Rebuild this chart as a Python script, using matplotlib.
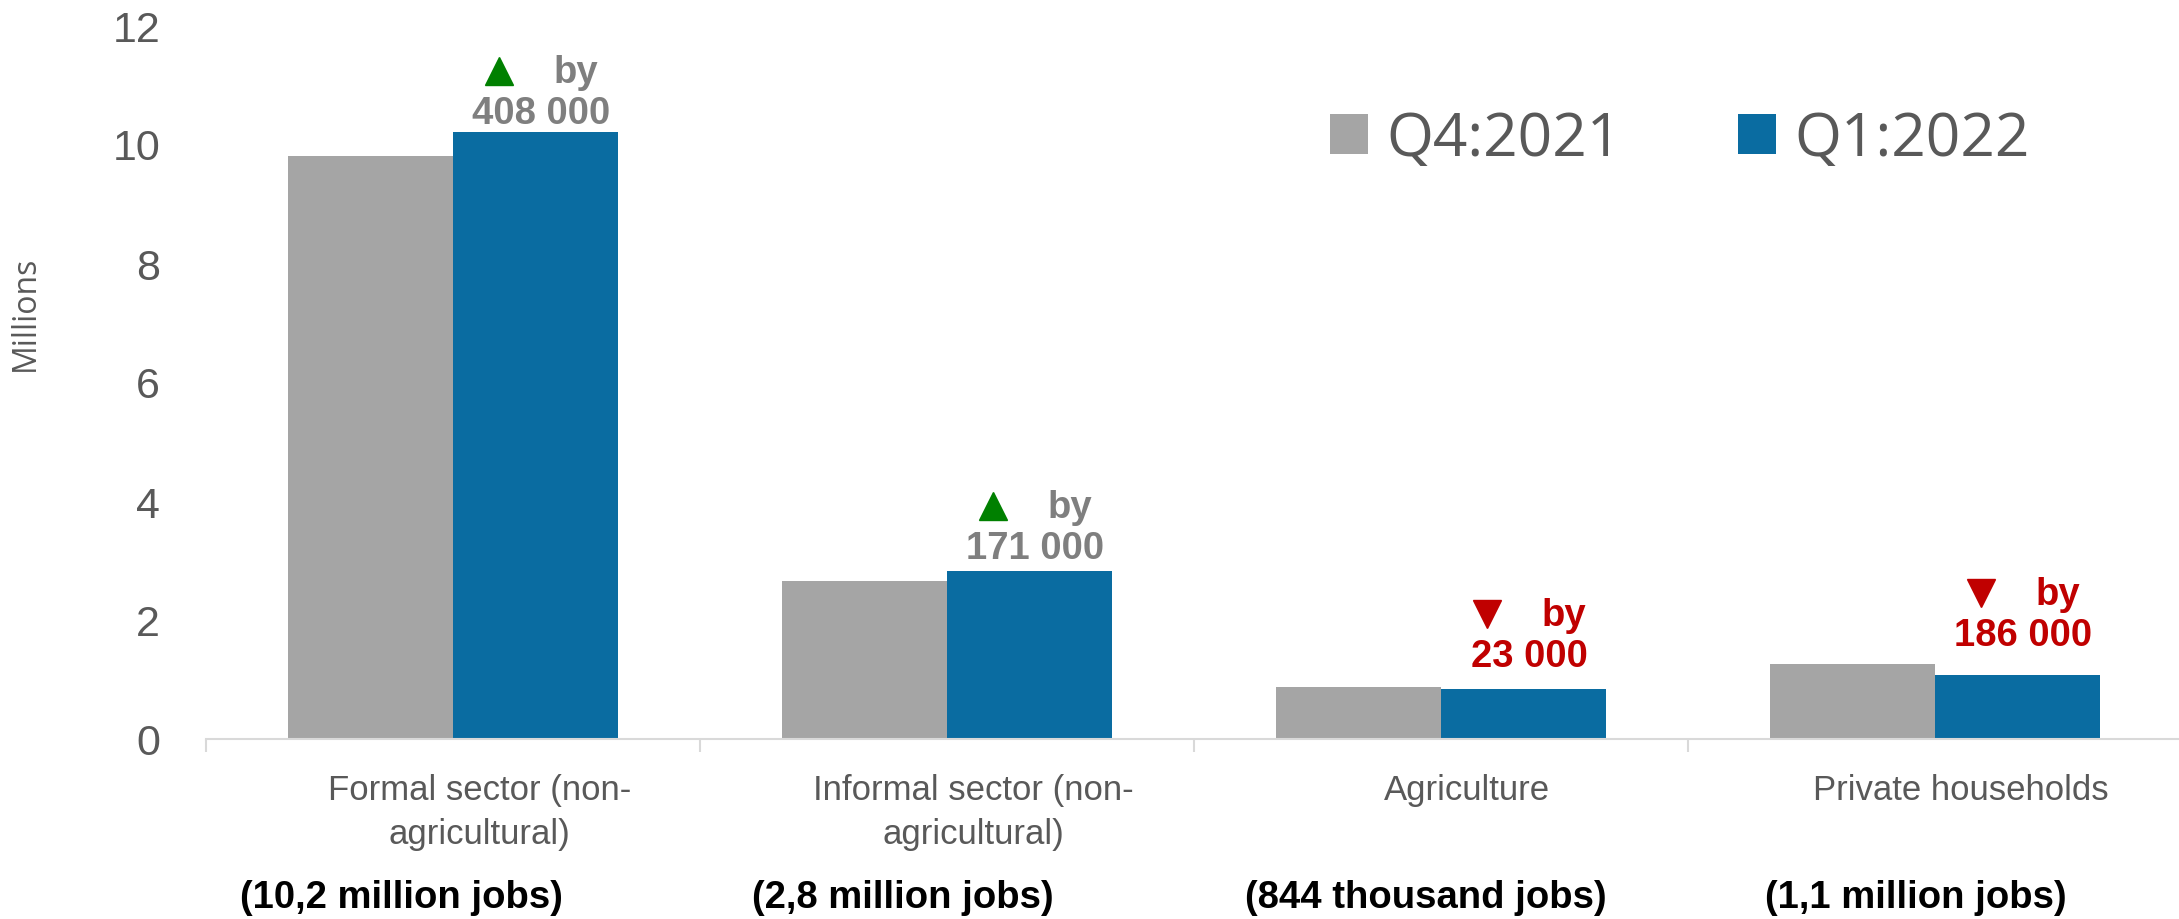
import numpy as np
import matplotlib.pyplot as plt
from matplotlib import transforms

# employment by sector, millions
categories = ["Formal sector (non-\nagricultural)", "Informal sector (non-\nagricultural)",
              "Agriculture", "Private households"]
jobs_notes = ["(10,2 million jobs)", "(2,8 million jobs)", "(844 thousand jobs)", "(1,1 million jobs)"]
q4_2021 = [9.79, 2.65, 0.867, 1.266]
q1_2022 = [10.20, 2.82, 0.844, 1.080]
change = [408000, 171000, -23000, -186000]

# hand placement of the free text boxes
note_shift = [-0.105, -0.089, -0.030, -0.038]   # category units
label_lift = [19, 23, 33, 40]                   # pixels above the Q1 bar

GREY = '#A5A5A5'
BLUE = '#0A6CA1'
TXT = '#595959'
SANS = ['Liberation Sans', 'DejaVu Sans']

W, H = 2179, 920
fig = plt.figure(figsize=(W / 100, H / 100), dpi=100)
ax = fig.add_axes([206 / W, 180 / H, 1976 / W, 714 / H])

x = np.arange(len(categories))
w = 0.333
ax.bar(x - w / 2, q4_2021, w, color=GREY, label='Q4:2021')
ax.bar(x + w / 2, q1_2022, w, color=BLUE, label='Q1:2022')

ax.set_xlim(-0.5, len(categories) - 0.5)
ax.set_ylim(0, 12)
ax.set_yticks(range(0, 13, 2))
ax.tick_params(axis='y', length=0, pad=33, labelsize=31, labelcolor=TXT)
for lab in ax.get_yticklabels():
    lab.set_family(SANS)

# category separators below the baseline
ax.set_xticks([])
ax.set_xticks(np.arange(-0.5, len(categories)), minor=True)
ax.tick_params(axis='x', which='minor', length=9, width=1.5, color='#D9D9D9', direction='out')
for s in ['top', 'right', 'left']:
    ax.spines[s].set_visible(False)
ax.spines['bottom'].set_color('#D9D9D9')
ax.spines['bottom'].set_linewidth(1.5)

fig.text(25 / W, 1 - 313 / H, 'Millions', rotation=90, ha='center', va='center',
         fontsize=23, color=TXT, family='Open Sans')

# category names and job totals
xfig = transforms.blended_transform_factory(ax.transData, fig.transFigure)
for i, name in enumerate(categories):
    ax.text(i + 0.053, 1 - 774 / H, name, transform=xfig, ha='center', va='top',
            fontsize=25, color=TXT, family=SANS, linespacing=1.43)
    ax.text(i + note_shift[i], 1 - 898 / H, jobs_notes[i], transform=xfig, ha='center', va='center',
            fontsize=27.5, fontweight='bold', color='black', family=SANS)

# change labels over the Q1 bars
for i, d in enumerate(change):
    up = d > 0
    col = '#7F7F7F' if up else '#C00000'
    xb = i + w / 2
    yb = q1_2022[i]
    lift = label_lift[i]
    num = f"{abs(d):,}".replace(',', ' ')
    ax.annotate(num, xy=(xb, yb), xytext=(6, lift), textcoords='offset pixels',
                ha='center', va='center', fontsize=27.5, fontweight='bold', color=col, family=SANS)
    ax.annotate('by', xy=(xb, yb), xytext=(41, lift + 41), textcoords='offset pixels',
                ha='center', va='center', fontsize=27.5, fontweight='bold', color=col, family=SANS)
    tr = transforms.offset_copy(ax.transData, fig=fig, x=(6 - 42) * 0.72, y=(lift + 42) * 0.72,
                                units='points')
    ax.plot([xb], [yb], marker='^' if up else 'v', ms=20, color='#008000' if up else '#C00000',
            transform=tr, clip_on=False, linestyle='none')

ax.legend(loc='center left', bbox_to_anchor=(1330 / W, 1 - 140 / H), bbox_transform=fig.transFigure,
          ncol=2, frameon=False, borderpad=0, borderaxespad=0,
          prop={'family': 'Open Sans', 'size': 43.5}, labelcolor=TXT,
          handlelength=0.63, handleheight=0.63, handletextpad=0.3, columnspacing=1.93)

fig.savefig('out.png', dpi=100)
